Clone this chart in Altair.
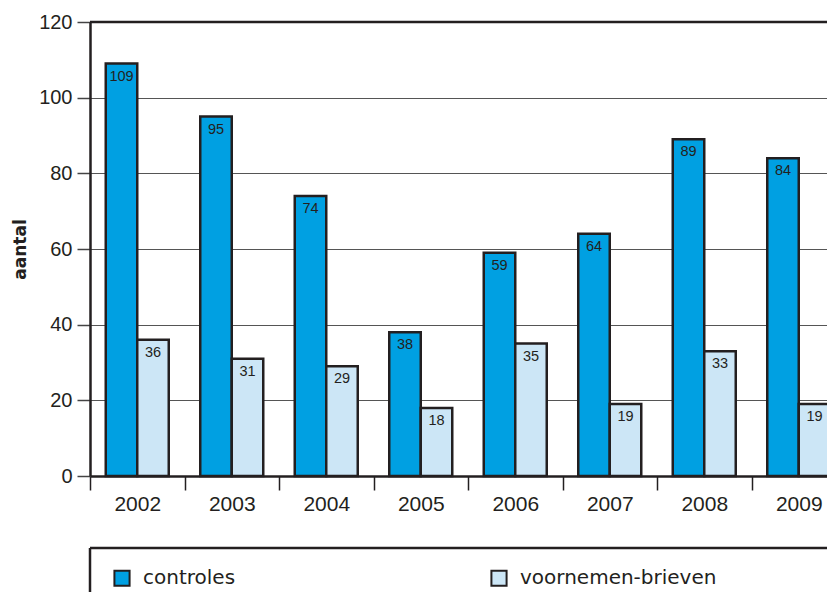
import altair as alt
import pandas as pd

years = ["2002", "2003", "2004", "2005", "2006", "2007", "2008", "2009"]
controles = [109, 95, 74, 38, 59, 64, 89, 84]
voornemen = [36, 31, 29, 18, 35, 19, 33, 19]
series = ["controles", "voornemen-brieven"]
colors = ["#00A0E2", "#CCE6F6"]

rows = []
for i, y in enumerate(years):
    rows.append({"jaar": y, "reeks": series[0], "aantal": controles[i]})
    rows.append({"jaar": y, "reeks": series[1], "aantal": voornemen[i]})
df = pd.DataFrame(rows)

FONT = "Liberation Sans"
WIDE = "DejaVu Sans"
INK = "#231F20"
W, H = 737, 454

xscale = alt.Scale(domain=years, range=[0, 756], paddingInner=0, paddingOuter=0)
offscale = alt.Scale(domain=series, paddingInner=0, paddingOuter=0.5)

base = alt.Chart(df)

bars = base.mark_bar(stroke=INK, strokeWidth=2.5).encode(
    x=alt.X("jaar:N", scale=xscale, title=None,
            axis=alt.Axis(tickBand="extent", labelAngle=0, labelFontSize=21, labelFont=FONT,
                          labelColor=INK, labelPadding=3, tickSize=14, tickWidth=1.5,
                          tickColor=INK, domainColor=INK, domainWidth=2.5, grid=False)),
    xOffset=alt.XOffset("reeks:N", scale=offscale, sort=series),
    y=alt.Y("aantal:Q", scale=alt.Scale(domain=[0, 120]), title="aantal",
            axis=alt.Axis(values=[0, 20, 40, 60, 80, 100, 120], labelFontSize=20, labelFont=FONT,
                          labelColor=INK, labelPadding=5, tickSize=13, tickWidth=1.5,
                          tickColor="#444", domainColor=INK, domainWidth=2.5,
                          grid=True, gridColor="#555", gridWidth=1.2,
                          titleFont=WIDE, titleFontSize=17, titleFontWeight="bold",
                          titleColor=INK, titleX=-70, titleY=227, titleAngle=270,
                          titleAlign="center", titleBaseline="middle")),
    fill=alt.Fill("reeks:N", scale=alt.Scale(domain=series, range=colors), sort=series,
                  legend=alt.Legend(title=None, orient="none", legendX=22, legendY=546,
                                    direction="horizontal", columns=2, columnPadding=251,
                                    symbolType="square", symbolSize=230, symbolStrokeColor=INK,
                                    symbolStrokeWidth=2, labelFontSize=20, labelFont=WIDE,
                                    labelColor=INK, labelOffset=11, labelLimit=400, padding=0)),
)

labels = base.mark_text(baseline="top", dy=6, fontSize=14.5, font=FONT, color=INK).encode(
    x=alt.X("jaar:N", scale=xscale),
    xOffset=alt.XOffset("reeks:N", scale=offscale, sort=series),
    y=alt.Y("aantal:Q"),
    text=alt.Text("aantal:Q"),
)

frame_df = pd.DataFrame({"k": [0]})
top_rule = alt.Chart(frame_df).mark_rule(color=INK, strokeWidth=2.5).encode(
    x=alt.value(0), x2=alt.value(W), y=alt.value(0))
leg_top = alt.Chart(frame_df).mark_rule(color=INK, strokeWidth=2.5).encode(
    x=alt.value(0), x2=alt.value(W), y=alt.value(526))
leg_left = alt.Chart(frame_df).mark_rule(color=INK, strokeWidth=2.5).encode(
    x=alt.value(0), y=alt.value(526), y2=alt.value(640))

chart = alt.layer(bars, labels, top_rule, leg_top, leg_left).properties(
    width=W, height=H,
    autosize=alt.AutoSizeParams(type="none"),
    padding={"left": 82, "top": 14, "right": 0, "bottom": 116},
).configure_view(strokeWidth=0).configure(background="white")

chart.save("out.html", embed_options={"renderer": "svg", "actions": False})
